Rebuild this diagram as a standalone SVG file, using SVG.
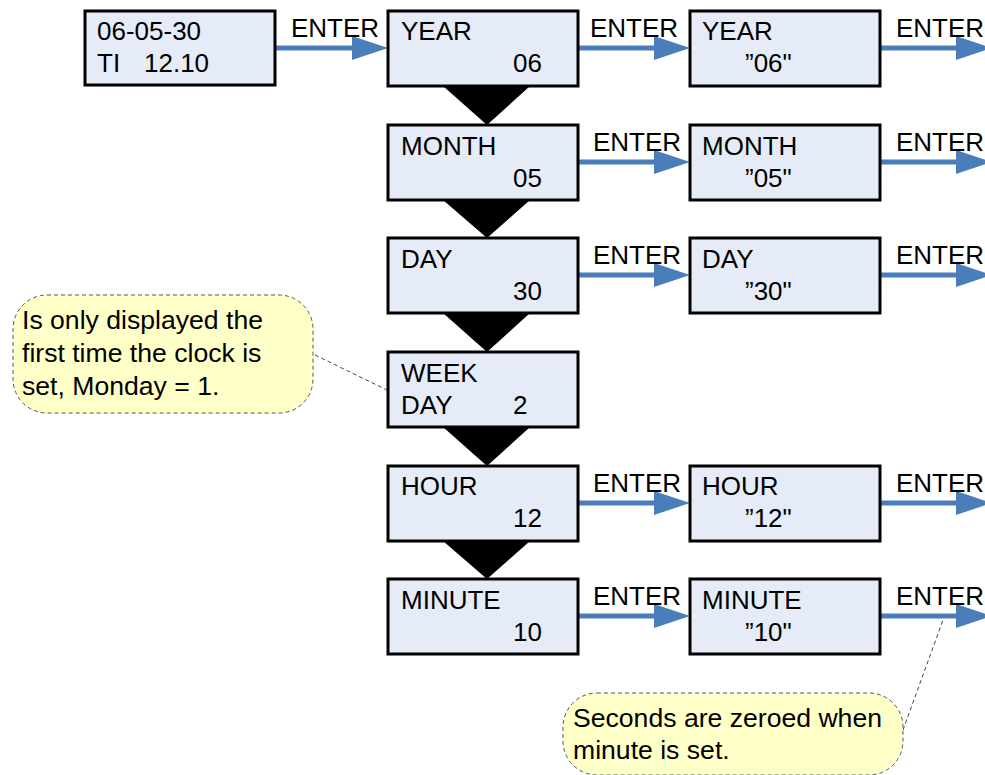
<svg xmlns="http://www.w3.org/2000/svg" width="985" height="775" viewBox="0 0 985 775">
<defs>
<style>
.box{fill:#E5ECF7;stroke:#000;stroke-width:3}
.t{font-family:"Liberation Sans",Arial,sans-serif;font-size:26px;fill:#000}
.n{font-family:"Liberation Sans",Arial,sans-serif;font-size:26.6px;fill:#000}
.arr{stroke:#4A7EBB;stroke-width:5;fill:none;marker-end:url(#ah)}
.tri{fill:#000}
.note{fill:#FFFFC8;stroke:#555;stroke-width:1;stroke-dasharray:4 3}
.lead{stroke:#444;stroke-width:1;stroke-dasharray:4 3;fill:none}
</style>
<marker id="ah" viewBox="0 0 36 24" markerWidth="36" markerHeight="24" refX="6" refY="12" orient="auto" markerUnits="userSpaceOnUse">
<path d="M0,0 L36,12 L0,24 z" fill="#4A7EBB"/>
</marker>
</defs>

<g id="connectors">
<line class="arr" x1="275" y1="48" x2="358" y2="48"/>
<line class="arr" x1="578" y1="48" x2="660" y2="48"/>
<line class="arr" x1="880" y1="48" x2="962" y2="48"/>
<line class="arr" x1="578" y1="162" x2="660" y2="162"/>
<line class="arr" x1="880" y1="162" x2="962" y2="162"/>
<line class="arr" x1="578" y1="275" x2="660" y2="275"/>
<line class="arr" x1="880" y1="275" x2="962" y2="275"/>
<line class="arr" x1="578" y1="503" x2="660" y2="503"/>
<line class="arr" x1="880" y1="503" x2="962" y2="503"/>
<line class="arr" x1="578" y1="616" x2="660" y2="616"/>
<line class="arr" x1="880" y1="616" x2="962" y2="616"/>
<polygon class="tri" points="443,86 530,86 487,125"/>
<polygon class="tri" points="443,200 530,200 487,238"/>
<polygon class="tri" points="443,313 530,313 487,352"/>
<polygon class="tri" points="443,427 530,427 487,466"/>
<polygon class="tri" points="443,541 530,541 487,579"/>
<line class="lead" x1="315" y1="355" x2="387" y2="390"/>
<line class="lead" x1="903" y1="730" x2="943" y2="620"/>
<text class="t" x="291" y="37">ENTER</text>
<text class="t" x="590" y="37">ENTER</text>
<text class="t" x="896" y="37">ENTER</text>
<text class="t" x="593" y="151">ENTER</text>
<text class="t" x="896" y="151">ENTER</text>
<text class="t" x="593" y="264">ENTER</text>
<text class="t" x="896" y="264">ENTER</text>
<text class="t" x="593" y="492">ENTER</text>
<text class="t" x="896" y="492">ENTER</text>
<text class="t" x="593" y="605">ENTER</text>
<text class="t" x="896" y="605">ENTER</text>
</g>

<g id="display">
<rect class="box" x="85" y="11" width="190" height="74"/>
<text class="t" x="97" y="40">06-05-30</text>
<text class="t" x="97" y="72">TI<tspan x="144">12.10</tspan></text>
</g>

<g id="year">
<rect class="box" x="388" y="11" width="190" height="75"/>
<text class="t" x="401" y="40">YEAR</text>
<text class="t" x="513" y="72">06</text>
</g>
<g id="year-set">
<rect class="box" x="690" y="11" width="190" height="75"/>
<text class="t" x="702" y="40">YEAR</text>
<text class="t" x="745" y="72">&#8221;06"</text>
</g>

<g id="month">
<rect class="box" x="388" y="125" width="190" height="75"/>
<text class="t" x="401" y="155">MONTH</text>
<text class="t" x="513" y="187">05</text>
</g>
<g id="month-set">
<rect class="box" x="690" y="125" width="190" height="75"/>
<text class="t" x="702" y="155">MONTH</text>
<text class="t" x="745" y="187">&#8221;05"</text>
</g>

<g id="day">
<rect class="box" x="388" y="238" width="190" height="75"/>
<text class="t" x="401" y="268">DAY</text>
<text class="t" x="513" y="300">30</text>
</g>
<g id="day-set">
<rect class="box" x="690" y="238" width="190" height="75"/>
<text class="t" x="702" y="268">DAY</text>
<text class="t" x="745" y="300">&#8221;30"</text>
</g>

<g id="weekday">
<rect class="box" x="388" y="352" width="190" height="75"/>
<text class="t" x="401" y="382">WEEK</text>
<text class="t" x="401" y="414">DAY<tspan x="513">2</tspan></text>
</g>

<g id="hour">
<rect class="box" x="388" y="466" width="190" height="75"/>
<text class="t" x="401" y="495">HOUR</text>
<text class="t" x="513" y="527">12</text>
</g>
<g id="hour-set">
<rect class="box" x="690" y="466" width="190" height="75"/>
<text class="t" x="702" y="495">HOUR</text>
<text class="t" x="745" y="527">&#8221;12"</text>
</g>

<g id="minute">
<rect class="box" x="388" y="579" width="190" height="75"/>
<text class="t" x="401" y="609">MINUTE</text>
<text class="t" x="513" y="641">10</text>
</g>
<g id="minute-set">
<rect class="box" x="690" y="579" width="190" height="75"/>
<text class="t" x="702" y="609">MINUTE</text>
<text class="t" x="745" y="641">&#8221;10"</text>
</g>

<g id="note-weekday">
<rect class="note" x="13" y="295" width="300" height="118" rx="34" ry="34"/>
<text class="n" x="22" y="329">Is only displayed the</text>
<text class="n" x="22" y="362">first time the clock is</text>
<text class="n" x="22" y="395">set, Monday = 1.</text>
</g>

<g id="note-seconds">
<rect class="note" x="563" y="693" width="340" height="82" rx="34" ry="34"/>
<text class="n" x="573" y="727">Seconds are zeroed when</text>
<text class="n" x="573" y="759">minute is set.</text>
</g>
</svg>
